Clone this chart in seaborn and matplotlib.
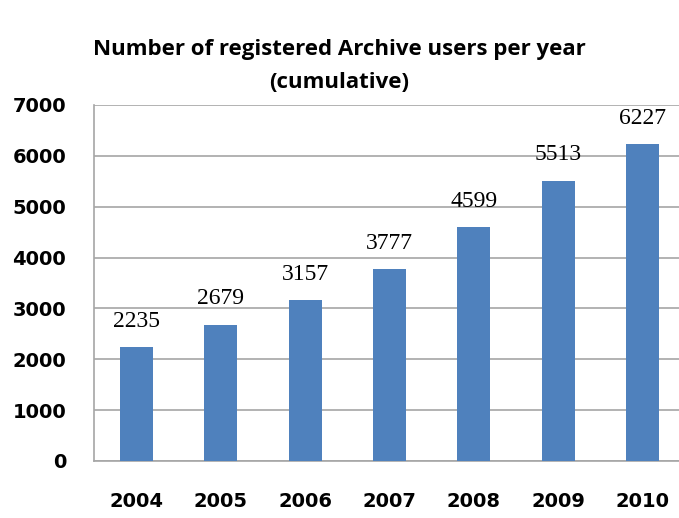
import matplotlib
matplotlib.use("Agg")
import matplotlib.pyplot as plt
import pandas as pd
import seaborn as sns

# Data
years = ["2004", "2005", "2006", "2007", "2008", "2009", "2010"]
users = [2235, 2679, 3157, 3777, 4599, 5513, 6227]

df = pd.DataFrame({"year": years, "users": users})

sns.set_style("white")
plt.rcParams["font.family"] = ["DejaVu Sans"]
plt.rcParams["text.color"] = "black"
plt.rcParams["xtick.color"] = "black"
plt.rcParams["ytick.color"] = "black"

fig = plt.figure(figsize=(6.79, 5.18), dpi=100)
# plot area is cut off on the right in the original picture
axe = fig.add_axes([94 / 679, 57 / 518, 591 / 679, 356 / 518])

sns.barplot(data=df, x="year", y="users", color="#4F81BD", saturation=1,
            width=0.39, linewidth=0, ax=axe, zorder=3)

axe.set_ylim(0, 7000)
axe.set_yticks(range(0, 7001, 1000))
axe.yaxis.grid(True, color="#A6A6A6", linewidth=1.2, zorder=0)
axe.set_axisbelow(True)
axe.set_xlabel("")
axe.set_ylabel("")

for side in ["top", "right"]:
    axe.spines[side].set_visible(False)
for side in ["left", "bottom"]:
    axe.spines[side].set_color("#A6A6A6")
    axe.spines[side].set_linewidth(1.2)

axe.tick_params(axis="y", length=0, pad=20, labelsize=14, labelcolor="black")
axe.tick_params(axis="x", length=0, pad=22, labelsize=14, labelcolor="black")
for lab in axe.get_xticklabels() + axe.get_yticklabels():
    lab.set_fontweight("bold")

axe.bar_label(axe.containers[0], labels=[str(v) for v in users], padding=11,
              fontsize=17, family="Liberation Serif", color="black")

fig.text(0.50, 0.905, "Number of registered Archive users per year",
         ha="center", va="center", fontsize=16, fontweight="bold",
         family="Open Sans", color="black")
fig.text(0.50, 0.840, "(cumulative)", ha="center", va="center",
         fontsize=16, fontweight="bold", family="Open Sans", color="black")

fig.savefig("out.png", dpi=100)
